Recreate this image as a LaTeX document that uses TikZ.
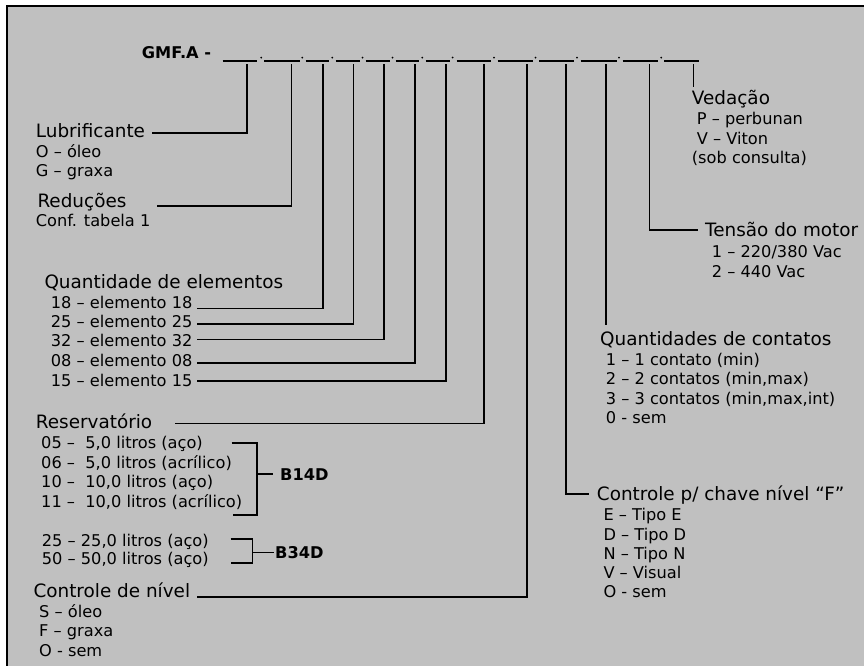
\documentclass[tikz,border=0pt]{standalone}
\usepackage{fontspec}
\setmainfont{DejaVu Sans}
\definecolor{bg}{RGB}{192,192,192}
\begin{document}
\begin{tikzpicture}[x=1pt,y=-1pt,
  hdr/.style={anchor=base west,inner sep=0pt,font=\fontsize{18.4}{20}\selectfont},
  itm/.style={anchor=base west,inner sep=0pt,font=\fontsize{16.2}{18}\selectfont},
  bld/.style={anchor=base west,inner sep=0pt,font=\fontsize{16.2}{18}\selectfont\bfseries},
  conn/.style={line width=1.6pt},
  blank/.style={line width=1.1pt},
  ]
\useasboundingbox (0,0) rectangle (864,665);
\fill[white] (0,0) rectangle (864,665);
\draw[line width=2pt, fill=bg] (7,6) rectangle (880,690);

% code line
\node[bld] (code) at (141.7,58.3) {GMF.A -};
\foreach \a/\b in {222.7/257,264/300,305.7/329,335.7/360,365.7/390,395.7/418.5,
  425.5/450,456.5/490.7,497.7/533,539.3/574.3,580.7/616.7,622.7/658.3,664.3/699}
  \draw[blank] (\a,61) -- (\b,61);
\foreach \x in {261.2,302.3,332.3,362.5,392.5,422.3,452.6,494,535.5,577,619,661.2}
  \fill (\x,57.6) circle (1.0);

% tap points
\coordinate (t1) at (246.7,64);
\coordinate (t2) at (291.3,64);
\coordinate (t3) at (322.7,64);
\coordinate (t4) at (353.3,64);
\coordinate (t5) at (384,64);
\coordinate (t6) at (415,64);
\coordinate (t7) at (445.7,64);
\coordinate (t8) at (484,64);
\coordinate (t9) at (527,64);
\coordinate (t10) at (566,64);
\coordinate (t11) at (605.7,64);
\coordinate (t12) at (649.3,64);
\coordinate (t13) at (693.3,64);
% connector ends
\coordinate (e1) at (151.7,132.7);
\coordinate (e2) at (156.7,206);
\coordinate (e3) at (197.3,308.3);
\coordinate (e4) at (197.3,324);
\coordinate (e5) at (197.3,339.3);
\coordinate (e6) at (197.3,362.7);
\coordinate (e7) at (197.3,381);
\coordinate (e8) at (175,423.3);
\coordinate (e9) at (197.3,596.7);
\coordinate (e10) at (589.3,494);
\coordinate (e11) at (605.7,325);
\coordinate (e12) at (698.3,230);
\coordinate (e13) at (693.3,87);

\foreach \i in {1,...,10,12}
  \draw[conn] (t\i) |- (e\i);
\draw[conn] (t11) -- (e11);
\draw[conn] (t13) -- (e13);

% Lubrificante
\node[hdr] (lub) at (35.7,137) {Lubrificante};
\node[itm] (lub1) at (35.7,157.5) {O – óleo};
\node[itm] (lub2) at (35.7,176.5) {G – graxa};
% Reducoes
\node[hdr] (red) at (37.3,207) {Reduções};
\node[itm] (red1) at (35.7,226) {Conf. tabela 1};
% Quantidade de elementos
\node[hdr] (qel) at (44.3,288.3) {Quantidade de elementos};
\node[itm] (q18) at (50.7,308) {18 – elemento 18};
\node[itm] (q25) at (50.7,327) {25 – elemento 25};
\node[itm] (q32) at (50.7,346.5) {32 – elemento 32};
\node[itm] (q08) at (50.7,366.5) {08 – elemento 08};
\node[itm] (q15) at (50.7,386) {15 – elemento 15};
% Reservatorio
\node[hdr] (res) at (35.7,428.3) {Reservatório};
\node[itm] (r05) at (41,448.7) {05 –\ \ 5,0 litros (aço)};
\node[itm] (r06) at (41,468.3) {06 –\ \ 5,0 litros (acrílico)};
\node[itm] (r10) at (41,487.7) {10 –\ \ 10,0 litros (aço)};
\node[itm] (r11) at (41,507.3) {11 –\ \ 10,0 litros (acrílico)};
\coordinate (ba1) at (231.7,442.7);
\coordinate (ba2) at (256.7,515);
\coordinate (ba3) at (233,515);
\coordinate (bam) at (256.7,474);
\coordinate (bae) at (273.3,474);
\draw[conn] (ba1) -| (ba2) -- (ba3);
\draw[conn] (bam) -- (bae);
\node[bld] (b14) at (280,480) {B14D};
\node[itm] (r25) at (41.7,546) {25 – 25,0 litros (aço)};
\node[itm] (r50) at (41.7,564.3) {50 – 50,0 litros (aço)};
\coordinate (bb1) at (230.7,539);
\coordinate (bb2) at (252.3,562.7);
\coordinate (bb3) at (230.7,562.7);
\coordinate (bbm) at (252.3,552.3);
\coordinate (bbe) at (274,552.3);
\draw[conn] (bb1) -| (bb2) -- (bb3);
\draw[conn] (bbm) -- (bbe);
\node[bld] (b34) at (275,558) {B34D};
% Controle de nivel
\node[hdr] (cn) at (33.3,597.3) {Controle de nível};
\node[itm] (cn1) at (39,617) {S – óleo};
\node[itm] (cn2) at (39,636.7) {F – graxa};
\node[itm] (cn3) at (39,656.5) {O - sem};

% Vedacao
\node[hdr] (ved) at (691.7,104.3) {Vedação};
\node[itm] (ved1) at (696.7,124.3) {P – perbunan};
\node[itm] (ved2) at (696.7,144.3) {V – Viton};
\node[itm] (ved3) at (691.7,163.3) {(sob consulta)};
% Tensao
\node[hdr] (ten) at (705,236.7) {Tensão do motor};
\node[itm] (ten1) at (711.7,257.7) {1 – 220/380 Vac};
\node[itm] (ten2) at (711.7,277) {2 – 440 Vac};
% Contatos
\node[hdr] (qc) at (600,345) {Quantidades de contatos};
\node[itm] (qc1) at (605.7,365) {1 – 1 contato (min)};
\node[itm] (qc2) at (605.7,384.3) {2 – 2 contatos (min,max)};
\node[itm] (qc3) at (605.7,404) {3 – 3 contatos (min,max,int)};
\node[itm] (qc4) at (605.7,423.3) {0 - sem};
% Controle chave
\node[hdr] (cc) at (596.7,500) {Controle p/ chave nível “F”};
\node[itm] (cc1) at (603.3,520.3) {E – Tipo E};
\node[itm] (cc2) at (603.3,540.3) {D – Tipo D};
\node[itm] (cc3) at (603.3,559.3) {N – Tipo N};
\node[itm] (cc4) at (603.3,578.3) {V – Visual};
\node[itm] (cc5) at (603.3,597.3) {O - sem};
\end{tikzpicture}
\end{document}
